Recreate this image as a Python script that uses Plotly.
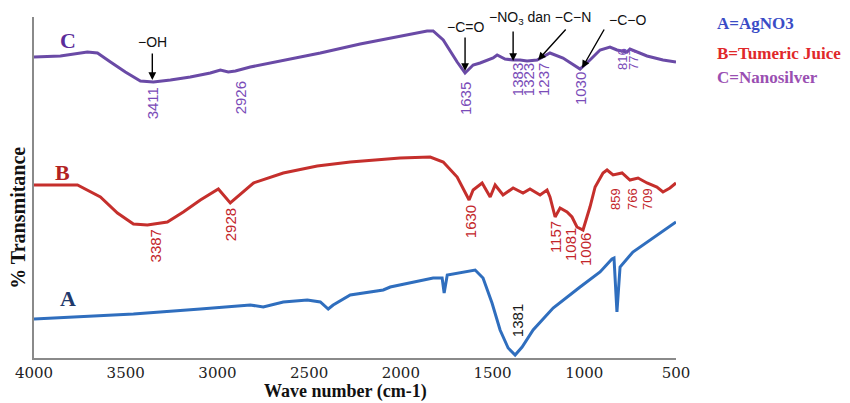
import plotly.graph_objects as go

# ---- data (wave number cm-1, relative % transmittance) ----
wn_C = [4000, 3856, 3709, 3654, 3583, 3502, 3420, 3349, 3256, 3148, 3039, 2984, 2941, 2902, 2821,
        2657, 2439, 2222, 2004, 1857, 1824, 1769, 1693, 1650, 1606, 1568, 1497, 1475, 1432, 1388,
        1350, 1312, 1257, 1187, 1116, 1061, 1023, 969, 914, 860, 822, 767, 751, 658, 571, 500]
T_C = [301, 302, 306, 305, 296, 286, 277, 276, 278, 281, 285, 288, 286, 287, 291,
       297, 305, 314, 322, 327, 327, 318, 296, 285, 293, 295, 300, 303, 299, 298,
       298, 297, 298, 305, 300, 293, 289, 298, 308, 311, 308, 306, 309, 302, 298, 296]

wn_B = [4000, 3763, 3638, 3545, 3458, 3382, 3273, 3186, 3093, 2995, 2930, 2804, 2641, 2456, 2276,
        2004, 1840, 1769, 1693, 1639, 1628, 1606, 1557, 1513, 1486, 1443, 1388, 1334, 1296, 1241,
        1203, 1187, 1159, 1132, 1094, 1067, 1040, 1007, 969, 941, 898, 876, 843, 794, 751,
        707, 658, 604, 571, 533, 500]
T_B = [173, 173, 161, 145, 134, 133, 136, 146, 158, 169, 155, 175, 185, 192, 196,
       200, 201, 196, 181, 161, 158, 168, 175, 161, 173, 163, 170, 165, 169, 163,
       168, 161, 141, 150, 146, 141, 131, 128, 151, 171, 185, 188, 183, 185, 178,
       180, 175, 171, 166, 170, 175]

wn_A = [4000, 3458, 3093, 2821, 2750, 2641, 2510, 2439, 2396, 2369, 2276, 2096, 2058, 1824, 1775,
        1764, 1747, 1595, 1552, 1503, 1459, 1415, 1377, 1339, 1279, 1170, 1023, 914, 849, 838,
        822, 805, 735, 626, 500]
T_A = [39, 44, 49, 53, 51, 56, 58, 56, 49, 53, 63, 68, 71, 80, 80,
       65, 83, 88, 80, 55, 28, 10, 3, 11, 28, 50, 71, 86, 99, 100,
       46, 91, 106, 120, 136]

peaks_C = ["3411", "2926", "1635", "1383", "1323", "1237", "1030", "816", "777"]
peaks_B = ["3387", "2928", "1630", "1157", "1081", "1006", "859", "766", "709"]
peaks_A = ["1381"]

tick_vals = [4000, 3500, 3000, 2500, 2000, 1500, 1000, 500]
legend_texts = ["A=AgNO3", "B=Tumeric Juice", "C=Nanosilver"]
series_letters = ["A", "B", "C"]

# ---- styling / positions ----
col_A, col_B, col_C = "#2F6EBE", "#C52F2C", "#6A4AA6"
leg_cols = ["#3A4CC6", "#E0282A", "#9A4FB2"]

pos_C = [(3355, 255), (2875, 260), (1650, 259), (1366, 278), (1306, 278), (1225, 278),
         (1023, 269), (794, 299), (735, 299)]
pos_B = [(3338, 112), (2930, 133), (1622, 136), (1159, 121), (1078, 114), (996, 108),
         (833, 159), (740, 159), (658, 159)]
pos_A = [(1366, 37)]
size_C = [15, 15, 15, 15, 15, 15, 15, 13, 13]
size_B = [15, 15, 15, 15, 15, 15, 13, 13, 13]

fig = go.Figure()
fig.add_trace(go.Scatter(x=wn_A, y=T_A, mode="lines", line=dict(color=col_A, width=3), name="A"))
fig.add_trace(go.Scatter(x=wn_B, y=T_B, mode="lines", line=dict(color=col_B, width=3), name="B"))
fig.add_trace(go.Scatter(x=wn_C, y=T_C, mode="lines", line=dict(color=col_C, width=3), name="C"))

ann = []
sans = "Liberation Sans"
serif = "Liberation Serif"

for txt, (x, y), s in zip(peaks_C, pos_C, size_C):
    ann.append(dict(x=x, y=y, text=txt, showarrow=False, textangle=-90,
                    font=dict(family=sans, size=s, color="#7A4CB8")))
for txt, (x, y), s in zip(peaks_B, pos_B, size_B):
    ann.append(dict(x=x, y=y, text=txt, showarrow=False, textangle=-90,
                    font=dict(family=sans, size=s, color="#C3262B")))
for txt, (x, y) in zip(peaks_A, pos_A):
    ann.append(dict(x=x, y=y, text=txt, showarrow=False, textangle=-90,
                    font=dict(family=sans, size=15, color="#1a1a1a")))

# series letters
for letter, (x, y), c in zip(series_letters, [(3812, 60), (3845, 186), (3812, 318)],
                             ["#1F3A6B", "#B22222", "#5B2C9A"]):
    ann.append(dict(x=x, y=y, text="<b>%s</b>" % letter, showarrow=False,
                    font=dict(family=serif, size=22, color=c)))

# functional group labels and arrows
grp = [("−OH", 3355, 316), ("−C=O", 1650, 331), ("−NO<sub>3</sub> dan −C−N", 1241, 340), ("−C−O", 762, 338)]
for t, x, y in grp:
    ann.append(dict(x=x, y=y, text=t, showarrow=False, font=dict(family=sans, size=14, color="#111")))
arrows = [((3355, 306), (3355, 278)), ((1650, 322), (1650, 287)), ((1388, 328), (1388, 297)),
          ((1094, 330), (1252, 298)), ((887, 330), (1012, 290))]
for (tx, ty), (hx, hy) in arrows:
    ann.append(dict(x=hx, y=hy, ax=tx, ay=ty, axref="x", ayref="y", text="", showarrow=True,
                    arrowhead=2, arrowsize=1.1, arrowwidth=1.4, arrowcolor="#000"))

# legend texts
for t, yp, c in zip(legend_texts, [0.980, 0.894, 0.824], leg_cols):
    ann.append(dict(x=1.061, y=yp, xref="paper", yref="paper", xanchor="left", yanchor="middle",
                    text="<b>%s</b>" % t, showarrow=False, font=dict(family=serif, size=17, color=c)))

# axis titles
ann.append(dict(x=0.485, y=-0.133, xref="paper", yref="paper", xanchor="center", yanchor="bottom",
                text="<b>Wave number (cm-1)</b>", showarrow=False, borderpad=0,
                font=dict(family=serif, size=18, color="#111")))
ann.append(dict(x=-0.024, y=0.41, xref="paper", yref="paper", xanchor="center", yanchor="middle",
                text="<b>% Transmitance</b>", textangle=-90, showarrow=False,
                font=dict(family=serif, size=20, color="#111")))

fig.update_layout(
    width=850, height=403,
    margin=dict(l=34, r=174, t=17, b=45),
    paper_bgcolor="white", plot_bgcolor="white",
    showlegend=False,
    annotations=ann,
    xaxis=dict(range=[4000, 500], tickvals=tick_vals, ticktext=[str(v) for v in tick_vals],
               showgrid=False, zeroline=False, showline=True, linecolor="#8a8a8a", linewidth=2,
               ticks="",
               tickfont=dict(family="DejaVu Serif", size=15, color="#222")),
    yaxis=dict(range=[0, 341], showgrid=False, zeroline=False, showline=True, linecolor="#8a8a8a",
               linewidth=2, showticklabels=False, ticks=""),
)

fig.write_html("out.html", config={"displayModeBar": False},
               post_script="document.body.style.margin='0px';document.body.style.overflow='hidden';")
